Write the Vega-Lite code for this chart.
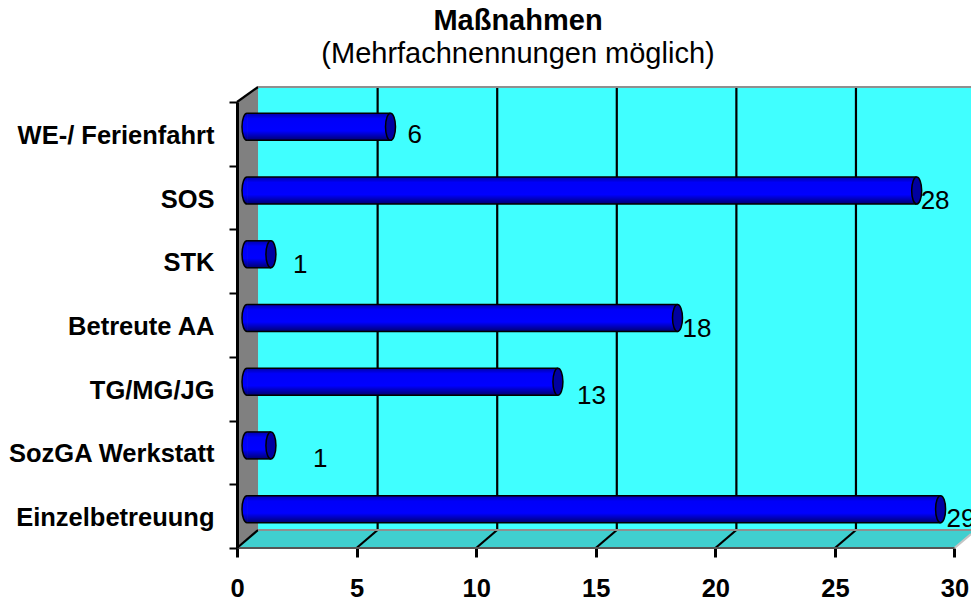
{
"$schema":"https://vega.github.io/schema/vega-lite/v6.json",
"width":734,"height":461,
"autosize":{"type":"none"},
"padding":{"left":237,"top":87,"right":0,"bottom":52},
"background":"white",
"title":{"text":"Maßnahmen","subtitle":"(Mehrfachnennungen möglich)","anchor":"middle","dx":-86,"offset":6,"font":"Liberation Sans","fontSize":29,"fontWeight":"bold","color":"#000000","subtitleFont":"Liberation Sans","subtitleFontSize":29,"subtitleColor":"#000000","subtitlePadding":4},
"datasets":{
"massnahmen":[
{"massnahme":"WE-/ Ferienfahrt","anzahl":6},
{"massnahme":"SOS","anzahl":28},
{"massnahme":"STK","anzahl":1},
{"massnahme":"Betreute AA","anzahl":18},
{"massnahme":"TG/MG/JG","anzahl":13},
{"massnahme":"SozGA Werkstatt","anzahl":1},
{"massnahme":"Einzelbetreuung","anzahl":29}
],
"flaechen":[
{"teil":"Wand","x":0.88,"u":18,"o":461},{"teil":"Wand","x":30.69,"u":18,"o":461},
{"teil":"Seite","x":0,"u":0,"o":446},{"teil":"Seite","x":0.88,"u":18,"o":461},
{"teil":"Boden","x":0,"u":0,"o":0},{"teil":"Boden","x":0.88,"u":0,"o":18},{"teil":"Boden","x":30,"u":0,"o":18},{"teil":"Boden","x":30.69,"u":14,"o":18}
],
"linien":[
{"teil":"Gitter","x":5.88,"x2":5.88,"u":18,"o":461},
{"teil":"Gitter","x":10.88,"x2":10.88,"u":18,"o":461},
{"teil":"Gitter","x":15.88,"x2":15.88,"u":18,"o":461},
{"teil":"Gitter","x":20.88,"x2":20.88,"u":18,"o":461},
{"teil":"Gitter","x":25.88,"x2":25.88,"u":18,"o":461},
{"teil":"Gitter","x":0,"x2":0.88,"u":0,"o":18},
{"teil":"Gitter","x":5,"x2":5.88,"u":0,"o":18},
{"teil":"Gitter","x":10,"x2":10.88,"u":0,"o":18},
{"teil":"Gitter","x":15,"x2":15.88,"u":0,"o":18},
{"teil":"Gitter","x":20,"x2":20.88,"u":0,"o":18},
{"teil":"Gitter","x":25,"x2":25.88,"u":0,"o":18},
{"teil":"Gitter","x":0,"x2":0.88,"u":446,"o":461},
{"teil":"Kante","x":0.88,"x2":30.69,"u":18,"o":18},
{"teil":"Kante","x":0.88,"x2":30.69,"u":461,"o":461},
{"teil":"Kante2","x":30,"x2":30.69,"u":0,"o":14},
{"teil":"Vorne","x":0,"x2":30,"u":0,"o":0}
]
},
"layer":[
{"data":{"name":"flaechen"},"layer":[
{"mark":{"type":"area","opacity":1},
"encoding":{
"x":{"field":"x","type":"quantitative","scale":{"domain":[0,30.69],"nice":false,"zero":false},
"axis":{"values":[0,5,10,15,20,25,30],"grid":false,"domain":false,"tickSize":9,"tickWidth":3,"tickColor":"#000000","labelFont":"Liberation Sans","labelFontSize":25.5,"labelFontWeight":"bold","labelColor":"#000000","labelBaseline":"middle","labelPadding":31,"labelFlush":false,"title":null}},
"y":{"field":"u","type":"quantitative","scale":{"domain":[0,461],"nice":false,"zero":false},"axis":null},
"y2":{"field":"o"},
"color":{"field":"teil","type":"nominal","legend":null,"scale":{"domain":["Wand","Seite","Boden","Gitter","Kante","Kante2","Vorne"],"range":["#40ffff","#808080","#40cfcf","#000000","#8f8f8f","#c4c4c4","#555555"]}}
}},
{"data":{"name":"linien"},"mark":{"type":"rule","strokeWidth":2.2},
"encoding":{
"x":{"field":"x","type":"quantitative"},
"x2":{"field":"x2"},
"y":{"field":"u","type":"quantitative"},
"y2":{"field":"o"},
"color":{"field":"teil","type":"nominal","legend":null}
}}
]},
{"data":{"name":"massnahmen"},"layer":[
{"mark":{"type":"point","filled":true,"fill":{"x1":0,"y1":0,"x2":0,"y2":1,"gradient":"linear","stops":[{"offset":0,"color":"#0000a8"},{"offset":0.2,"color":"#0000f8"},{"offset":0.65,"color":"#0000ff"},{"offset":1,"color":"#000070"}]},"stroke":"#000000","strokeWidth":1.5,"opacity":1,"shape":"M0,-1 A0.37,1 0 0 0 0,1","size":729,"xOffset":10,"yOffset":-7},
"encoding":{"x":{"datum":0,"type":"quantitative"},"y":{"field":"massnahme","type":"nominal"}}},
{"mark":{"type":"bar","size":27,"xOffset":10,"yOffset":-7,"fill":{"x1":0,"y1":0,"x2":0,"y2":1,"gradient":"linear","stops":[{"offset":0,"color":"#0000a8"},{"offset":0.2,"color":"#0000f8"},{"offset":0.65,"color":"#0000ff"},{"offset":1,"color":"#000070"}]}},
"encoding":{
"x":{"field":"anzahl","type":"quantitative"},
"x2":{"datum":0.42},
"y":{"field":"massnahme","type":"nominal","sort":null,"scale":{"domain":["WE-/ Ferienfahrt","SOS","STK","Betreute AA","TG/MG/JG","SozGA Werkstatt","Einzelbetreuung"],"range":[15,461],"paddingInner":0,"paddingOuter":0},
"axis":{"orient":"left","title":null,"zindex":1,"domain":true,"domainColor":"#000000","domainWidth":3,"ticks":true,"tickBand":"extent","tickSize":8,"tickWidth":2,"tickColor":"#000000","labelFont":"Liberation Sans","labelFontSize":25.5,"labelFontWeight":"bold","labelColor":"#000000","labelPadding":15,"labelOffset":1.5,"labelLimit":300,"grid":false}}
}},
{"mark":{"type":"rule","stroke":"#000000","strokeWidth":1.5,"xOffset":10,"yOffset":-20.5},
"encoding":{"x":{"field":"anzahl","type":"quantitative"},"x2":{"datum":0.42},"y":{"field":"massnahme","type":"nominal"}}},
{"mark":{"type":"rule","stroke":"#000000","strokeWidth":1.5,"xOffset":10,"yOffset":6.5},
"encoding":{"x":{"field":"anzahl","type":"quantitative"},"x2":{"datum":0.42},"y":{"field":"massnahme","type":"nominal"}}},
{"mark":{"type":"point","filled":true,"fill":"#0000a0","stroke":"#000000","strokeWidth":1.5,"opacity":1,"shape":"M0,-1 A0.37,1 0 1 0 0,1 A0.37,1 0 1 0 0,-1 Z","size":729,"xOffset":10,"yOffset":-7},
"encoding":{"x":{"field":"anzahl","type":"quantitative"},"y":{"field":"massnahme","type":"nominal"}}},
{"transform":[{"filter":"datum.massnahme==='WE-/ Ferienfahrt'"}],"mark":{"type":"text","align":"left","baseline":"middle","font":"Liberation Sans","fontSize":26,"color":"#000000","dx":27,"dy":1},"encoding":{"x":{"field":"anzahl","type":"quantitative"},"y":{"field":"massnahme","type":"nominal"},"text":{"field":"anzahl"}}},
{"transform":[{"filter":"datum.massnahme==='SOS'"}],"mark":{"type":"text","align":"left","baseline":"middle","font":"Liberation Sans","fontSize":26,"color":"#000000","dx":14,"dy":3},"encoding":{"x":{"field":"anzahl","type":"quantitative"},"y":{"field":"massnahme","type":"nominal"},"text":{"field":"anzahl"}}},
{"transform":[{"filter":"datum.massnahme==='STK'"}],"mark":{"type":"text","align":"left","baseline":"middle","font":"Liberation Sans","fontSize":26,"color":"#000000","dx":32,"dy":4},"encoding":{"x":{"field":"anzahl","type":"quantitative"},"y":{"field":"massnahme","type":"nominal"},"text":{"field":"anzahl"}}},
{"transform":[{"filter":"datum.massnahme==='Betreute AA'"}],"mark":{"type":"text","align":"left","baseline":"middle","font":"Liberation Sans","fontSize":26,"color":"#000000","dx":15,"dy":4},"encoding":{"x":{"field":"anzahl","type":"quantitative"},"y":{"field":"massnahme","type":"nominal"},"text":{"field":"anzahl"}}},
{"transform":[{"filter":"datum.massnahme==='TG/MG/JG'"}],"mark":{"type":"text","align":"left","baseline":"middle","font":"Liberation Sans","fontSize":26,"color":"#000000","dx":29,"dy":7},"encoding":{"x":{"field":"anzahl","type":"quantitative"},"y":{"field":"massnahme","type":"nominal"},"text":{"field":"anzahl"}}},
{"transform":[{"filter":"datum.massnahme==='SozGA Werkstatt'"}],"mark":{"type":"text","align":"left","baseline":"middle","font":"Liberation Sans","fontSize":26,"color":"#000000","dx":52,"dy":7},"encoding":{"x":{"field":"anzahl","type":"quantitative"},"y":{"field":"massnahme","type":"nominal"},"text":{"field":"anzahl"}}},
{"transform":[{"filter":"datum.massnahme==='Einzelbetreuung'"}],"mark":{"type":"text","align":"left","baseline":"middle","font":"Liberation Sans","fontSize":26,"color":"#000000","dx":16,"dy":3},"encoding":{"x":{"field":"anzahl","type":"quantitative"},"y":{"field":"massnahme","type":"nominal"},"text":{"field":"anzahl"}}}
]}
],
"resolve":{"scale":{"y":"independent"}},
"config":{"view":{"stroke":null}}
}
